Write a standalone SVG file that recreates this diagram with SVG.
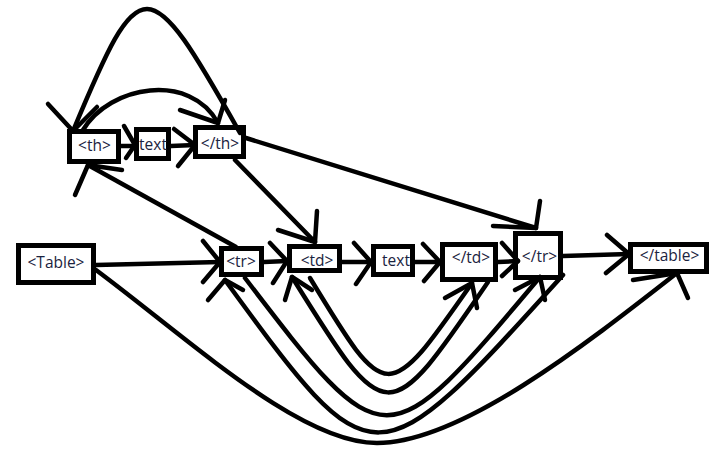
<svg xmlns="http://www.w3.org/2000/svg" width="711" height="451" viewBox="0 0 711 451">
  <style>
    .box { fill: #ffffff; stroke: #000000; stroke-width: 5; }
    .lbl { font-family: "Open Sans", "Noto Sans", sans-serif; font-size: 15.5px; fill: #1a2340; text-anchor: middle; }
    .edge { fill: none; stroke: #000000; stroke-width: 4.5; stroke-linecap: round; stroke-linejoin: round; }
    .head { fill: none; stroke: #000000; stroke-width: 4.5; stroke-linecap: round; stroke-linejoin: round; }
  </style>
  <rect width="711" height="451" fill="#ffffff"/>

  <!-- states -->
  <g id="th-open"><rect class="box" x="69.5" y="131.5" width="49" height="30"/><text class="lbl" x="94.5" y="150.5">&lt;th&gt;</text></g>
  <g id="th-text"><rect class="box" x="136.5" y="129.5" width="32" height="29"/><text class="lbl" x="153" y="150">text</text></g>
  <g id="th-close"><rect class="box" x="195.5" y="127.5" width="48" height="29"/><text class="lbl" x="220" y="149">&lt;/th&gt;</text></g>
  <g id="table-open"><rect class="box" x="18.5" y="245.5" width="75" height="37"/><text class="lbl" x="56" y="268">&lt;Table&gt;</text></g>
  <g id="tr-open"><rect class="box" x="221.5" y="248.5" width="40" height="26"/><text class="lbl" x="241" y="266.5">&lt;tr&gt;</text></g>
  <g id="td-open"><rect class="box" x="289.5" y="246.5" width="50" height="24"/><text class="lbl" x="317" y="265.5">&lt;td&gt;</text></g>
  <g id="td-text"><rect class="box" x="373.5" y="246.5" width="39" height="28"/><text class="lbl" x="396" y="266">text</text></g>
  <g id="td-close"><rect class="box" x="442.5" y="244.5" width="53" height="35"/><text class="lbl" x="471" y="263">&lt;/td&gt;</text></g>
  <g id="tr-close"><rect class="box" x="515.5" y="233.5" width="45" height="44"/><text class="lbl" x="539.5" y="262">&lt;/tr&gt;</text></g>
  <g id="table-close"><rect class="box" x="630.5" y="244.5" width="76" height="27"/><text class="lbl" x="669.5" y="260.5">&lt;/table&gt;</text></g>

  <!-- transitions -->
  <g id="connectors">
    <!-- header row -->
    <path class="edge" d="M120,146 L135,146"/>
    <path class="head" d="M124,126 L135,145 L126,158"/>
    <path class="edge" d="M171,146 L195,145"/>
    <path class="head" d="M174,129 L195,145 L178,166"/>
    <path class="edge" d="M83,130 C110,85 190,72 218,123"/>
    <path class="head" d="M180,110 L218,123 L225,100"/>
    <path class="edge" d="M240,133 C147,-32 141,-32 73,131"/>
    <path class="head" d="M48,104 L73,131 L97,107"/>
    <path class="edge" d="M246,138 L536,228"/>
    <path class="head" d="M493,226 L536,228 L540,201"/>
    <path class="edge" d="M235,160 L315,242"/>
    <path class="head" d="M278,230 L315,242 L317,211"/>
    <path class="edge" d="M236,247 L88,165"/>
    <path class="head" d="M122,170 L88,165 L75,195"/>

    <!-- table body -->
    <path class="edge" d="M96,265 L220,262"/>
    <path class="head" d="M203,241 L220,262 L203,282"/>
    <path class="edge" d="M264,262 L287,261"/>
    <path class="head" d="M270,243 L287,261 L273,283"/>
    <path class="edge" d="M342,262 L371,262"/>
    <path class="head" d="M354,243 L371,262 L356,284"/>
    <path class="edge" d="M415,262 L440,262"/>
    <path class="head" d="M423,244 L440,262 L424,281"/>
    <path class="edge" d="M498,262 L518,261"/>
    <path class="head" d="M502,243 L518,261 L502,276"/>
    <path class="edge" d="M563,256 L629,254"/>
    <path class="head" d="M607,235 L629,254 L606,273"/>

    <!-- loops below -->
    <path class="edge" d="M310,278 C387,405 387,405 472,283"/>
    <path class="head" d="M445,298 L472,283 L477,308"/>
    <path class="edge" d="M488,282 C387,430 387,430 292,277"/>
    <path class="head" d="M285,300 L292,277 L312,290"/>
    <path class="edge" d="M245,278 C385,461 385,461 540,277"/>
    <path class="head" d="M515,290 L540,277 L545,300"/>
    <path class="edge" d="M563,275 C374,484 374,484 225,280"/>
    <path class="head" d="M208,300 L225,280 L243,290"/>
    <path class="edge" d="M96,270 C190,340 300,443 377,443 C460,443 585,345 677,273"/>
    <path class="head" d="M633,280 L677,273 L688,298"/>
  </g>
</svg>
